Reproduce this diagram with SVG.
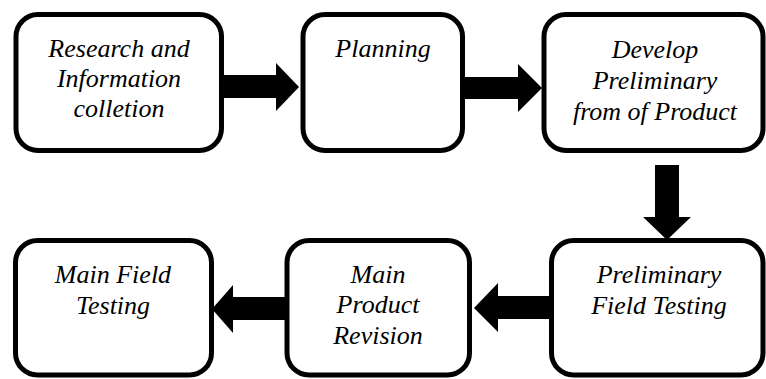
<svg xmlns="http://www.w3.org/2000/svg" width="766" height="379" viewBox="0 0 766 379">
<style>
.box{fill:#fff;stroke:#000;stroke-width:5}
.arr{fill:#000}
svg text, text.lbl{font-family:"Liberation Serif","Times New Roman",serif !important;font-style:italic !important;font-size:26px;fill:#000;text-anchor:middle}
</style>
<rect width="766" height="379" fill="#fff"/>
<g id="connectors">
<polygon class="arr" points="222,75 276,75 276,63 299,87 276,111 276,98 222,98"/>
<polygon class="arr" points="464,77 518,77 518,64 542,88 518,112 518,99 464,99"/>
<polygon class="arr" points="655,165 655,217 643,217 667,240 691,217 679,217 679,165"/>
<polygon class="arr" points="550,296 498,296 498,283 474,308 498,332 498,319 550,319"/>
<polygon class="arr" points="286,297 233,297 233,285 212,309 233,333 233,320 286,320"/>
</g>
<g id="n1">
<rect class="box" x="16" y="14.5" width="205.5" height="136" rx="22"/>
<text class="lbl" x="119" y="57" style="font-family:'Liberation Serif',serif;font-style:italic">Research and</text>
<text class="lbl" x="119" y="87" style="font-family:'Liberation Serif',serif;font-style:italic">Information</text>
<text class="lbl" x="119" y="117" style="font-family:'Liberation Serif',serif;font-style:italic">colletion</text>
</g>
<g id="n2">
<rect class="box" x="303" y="14.5" width="159.5" height="136" rx="22"/>
<text class="lbl" x="383" y="57" style="font-family:'Liberation Serif',serif;font-style:italic">Planning</text>
</g>
<g id="n3">
<rect class="box" x="544" y="14.5" width="219" height="136" rx="22"/>
<text class="lbl" x="655" y="58" style="font-family:'Liberation Serif',serif;font-style:italic">Develop</text>
<text class="lbl" x="655" y="89" style="font-family:'Liberation Serif',serif;font-style:italic">Preliminary</text>
<text class="lbl" x="655" y="120" style="font-family:'Liberation Serif',serif;font-style:italic">from of Product</text>
</g>
<g id="n4">
<rect class="box" x="551.5" y="240.5" width="211.5" height="134.5" rx="22"/>
<text class="lbl" x="659" y="283" style="font-family:'Liberation Serif',serif;font-style:italic">Preliminary</text>
<text class="lbl" x="659" y="314" style="font-family:'Liberation Serif',serif;font-style:italic">Field Testing</text>
</g>
<g id="n5">
<rect class="box" x="287" y="240.5" width="182.5" height="134.5" rx="22"/>
<text class="lbl" x="378" y="283" style="font-family:'Liberation Serif',serif;font-style:italic">Main</text>
<text class="lbl" x="378" y="313" style="font-family:'Liberation Serif',serif;font-style:italic">Product</text>
<text class="lbl" x="378" y="344" style="font-family:'Liberation Serif',serif;font-style:italic">Revision</text>
</g>
<g id="n6">
<rect class="box" x="15.5" y="240.5" width="196" height="134.5" rx="22"/>
<text class="lbl" x="113" y="283" style="font-family:'Liberation Serif',serif;font-style:italic">Main Field</text>
<text class="lbl" x="113" y="314" style="font-family:'Liberation Serif',serif;font-style:italic">Testing</text>
</g>
</svg>
